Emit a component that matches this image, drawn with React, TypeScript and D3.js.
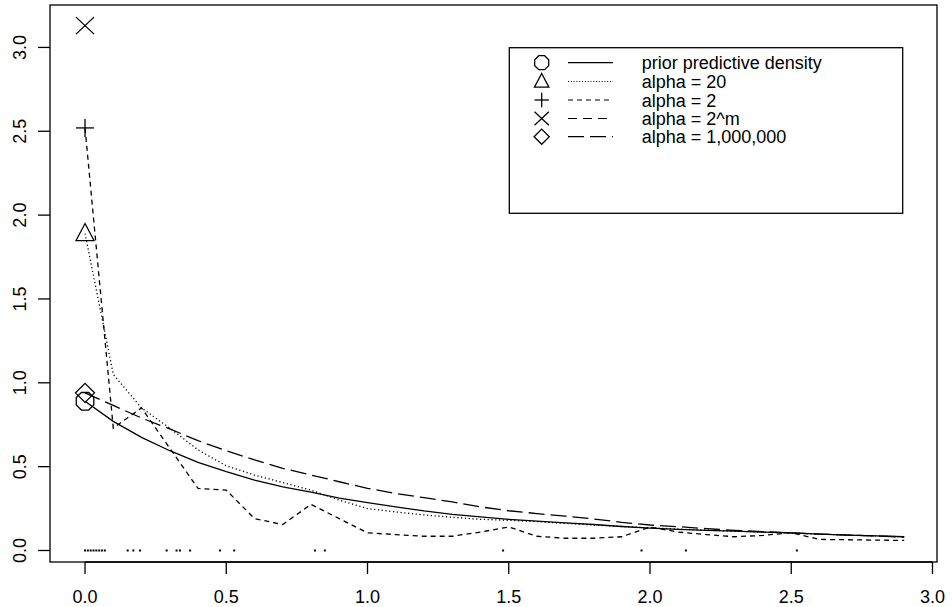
import React from "react";
import * as d3 from "d3";

const xGrid = [0, 0.1, 0.2, 0.3, 0.4, 0.5, 0.6, 0.7, 0.8, 0.9, 1.0, 1.1, 1.2, 1.3, 1.4, 1.5, 1.6, 1.7, 1.8, 1.9, 2.0, 2.1, 2.2, 2.3, 2.4, 2.5, 2.6, 2.7, 2.8, 2.9];

const prior = [0.89, 0.77, 0.675, 0.595, 0.525, 0.47, 0.42, 0.38, 0.348, 0.312, 0.285, 0.26, 0.236, 0.216, 0.2, 0.186, 0.175, 0.165, 0.155, 0.143, 0.133, 0.126, 0.12, 0.115, 0.11, 0.105, 0.098, 0.092, 0.087, 0.082];
const alpha20 = [1.89, 1.05, 0.85, 0.73, 0.6, 0.505, 0.45, 0.405, 0.36, 0.3, 0.25, 0.23, 0.212, 0.198, 0.186, 0.18, 0.172, 0.162, 0.152, 0.143, 0.135, 0.128, 0.121, 0.115, 0.11, 0.104, 0.098, 0.092, 0.087, 0.082];
const alpha2 = [2.52, 0.73, 0.85, 0.61, 0.37, 0.36, 0.19, 0.155, 0.275, 0.19, 0.105, 0.095, 0.085, 0.085, 0.11, 0.14, 0.085, 0.073, 0.073, 0.082, 0.14, 0.11, 0.095, 0.082, 0.09, 0.106, 0.066, 0.064, 0.062, 0.06];
const alpha2m = [3.13];
const alpha1e6 = [0.94, 0.865, 0.79, 0.725, 0.655, 0.595, 0.54, 0.49, 0.45, 0.41, 0.371, 0.34, 0.315, 0.29, 0.26, 0.237, 0.22, 0.205, 0.188, 0.168, 0.152, 0.142, 0.13, 0.12, 0.112, 0.105, 0.098, 0.092, 0.087, 0.08];

const rug = [0, 0.01, 0.02, 0.03, 0.04, 0.05, 0.06, 0.07, 0.151, 0.171, 0.195, 0.289, 0.324, 0.336, 0.372, 0.478, 0.528, 0.814, 0.849, 1.48, 1.97, 2.127, 2.52];

const xTicks = [0, 0.5, 1.0, 1.5, 2.0, 2.5, 3.0];
const yTicks = [0, 0.5, 1.0, 1.5, 2.0, 2.5, 3.0];

const legendLabels = ["prior predictive density", "alpha = 20", "alpha = 2", "alpha = 2^m", "alpha = 1,000,000"];

const FONT = "'Liberation Sans', Arial, Helvetica, sans-serif";

type Shape = "octagon" | "triangle" | "plus" | "cross" | "diamond";

function Marker({ cx, cy, shape, s = 1 }: { cx: number; cy: number; shape: Shape; s?: number }) {
  const common = { fill: "none", stroke: "#000", strokeWidth: 1.3 };
  if (shape === "octagon") {
    const r = 9.5 * s;
    const pts = d3.range(8).map((i) => {
      const a = Math.PI / 8 + (i * Math.PI) / 4;
      return [cx + r * Math.cos(a), cy + r * Math.sin(a)];
    });
    return <polygon points={pts.map((p) => p.join(",")).join(" ")} {...common} />;
  }
  if (shape === "triangle") {
    return <polygon points={`${cx},${cy - 10 * s} ${cx + 9 * s},${cy + 7 * s} ${cx - 9 * s},${cy + 7 * s}`} {...common} />;
  }
  if (shape === "plus") {
    return (
      <g {...common}>
        <line x1={cx - 9 * s} y1={cy} x2={cx + 9 * s} y2={cy} />
        <line x1={cx} y1={cy - 9 * s} x2={cx} y2={cy + 9 * s} />
      </g>
    );
  }
  if (shape === "cross") {
    return (
      <g {...common}>
        <line x1={cx - 9 * s} y1={cy - 8.5 * s} x2={cx + 9 * s} y2={cy + 8.5 * s} />
        <line x1={cx - 9 * s} y1={cy + 8.5 * s} x2={cx + 9 * s} y2={cy - 8.5 * s} />
      </g>
    );
  }
  return <polygon points={`${cx},${cy - 9.5 * s} ${cx + 9.5 * s},${cy} ${cx},${cy + 9.5 * s} ${cx - 9.5 * s},${cy}`} {...common} />;
}

export default function App() {
  const W = 952;
  const H = 607;
  const left = 50, right = 937, top = 5, bottom = 562;
  const x = d3.scaleLinear().domain([-0.124, 3.016]).range([left, right]);
  const y = d3.scaleLinear().domain([-0.0686, 3.253]).range([bottom, top]);

  const line = d3
    .line<number>()
    .x((_, i) => x(xGrid[i]))
    .y((d) => y(d));

  const series = [
    { data: prior, shape: "octagon" as Shape, dash: "none", legendDash: "none" },
    { data: alpha20, shape: "triangle" as Shape, dash: "1.2,2.6", legendDash: "1,1.8" },
    { data: alpha2, shape: "plus" as Shape, dash: "5,4", legendDash: "5,4" },
    { data: alpha2m, shape: "cross" as Shape, dash: "9,6", legendDash: "9,6" },
    { data: alpha1e6, shape: "diamond" as Shape, dash: "16,6", legendDash: "16,6" },
  ];

  const legendRowY = [62.7, 81.5, 100, 118.5, 136.7];

  return (
    <svg
      width={W}
      height={H}
      style={{ position: "absolute", left: 0, top: 0, display: "block", background: "#fff" }}
      fontFamily={FONT}
    >
      <rect x={0} y={0} width={W} height={H} fill="#fff" />
      <rect x={left} y={top} width={right - left} height={bottom - top} fill="none" stroke="#000" strokeWidth={1.3} />

      <line x1={x(xTicks[0])} y1={bottom} x2={x(xTicks[xTicks.length - 1])} y2={bottom} stroke="#000" strokeWidth={1.3} />
      {xTicks.map((t) => (
        <g key={"xt" + t}>
          <line x1={x(t)} y1={bottom} x2={x(t)} y2={bottom + 12} stroke="#000" strokeWidth={1.3} />
          <text x={x(t)} y={603} fontSize={18} textAnchor="middle" fill="#000">
            {t.toFixed(1)}
          </text>
        </g>
      ))}

      {yTicks.map((t) => (
        <g key={"yt" + t}>
          <line x1={left - 12} y1={y(t)} x2={left} y2={y(t)} stroke="#000" strokeWidth={1.3} />
          <text transform={`translate(26,${y(t)}) rotate(-90)`} fontSize={18} textAnchor="middle" fill="#000">
            {t.toFixed(1)}
          </text>
        </g>
      ))}

      {series.map((s, i) =>
        s.data.length > 1 ? (
          <path key={"c" + i} d={line(s.data) || ""} fill="none" stroke="#000" strokeWidth={1.3} strokeDasharray={s.dash} />
        ) : null
      )}

      {series.map((s, i) => (
        <Marker key={"m" + i} cx={x(xGrid[0])} cy={y(s.data[0])} shape={s.shape} />
      ))}

      {rug.map((r, i) => (
        <rect key={"r" + i} x={x(r) - 1} y={y(0) - 1} width={2} height={2} fill="#000" />
      ))}

      <rect x={509.3} y={47.7} width={393.4} height={165.6} fill="#fff" stroke="#000" strokeWidth={1.3} />
      {series.map((s, i) => (
        <g key={"lg" + i}>
          <Marker cx={541.7} cy={legendRowY[i]} shape={s.shape} s={0.8} />
          <line x1={568} y1={legendRowY[i]} x2={613} y2={legendRowY[i]} stroke="#000" strokeWidth={1.2} strokeDasharray={s.legendDash} />
          <text x={641.7} y={legendRowY[i] + 6.5} fontSize={18} fill="#000">
            {legendLabels[i]}
          </text>
        </g>
      ))}
    </svg>
  );
}
